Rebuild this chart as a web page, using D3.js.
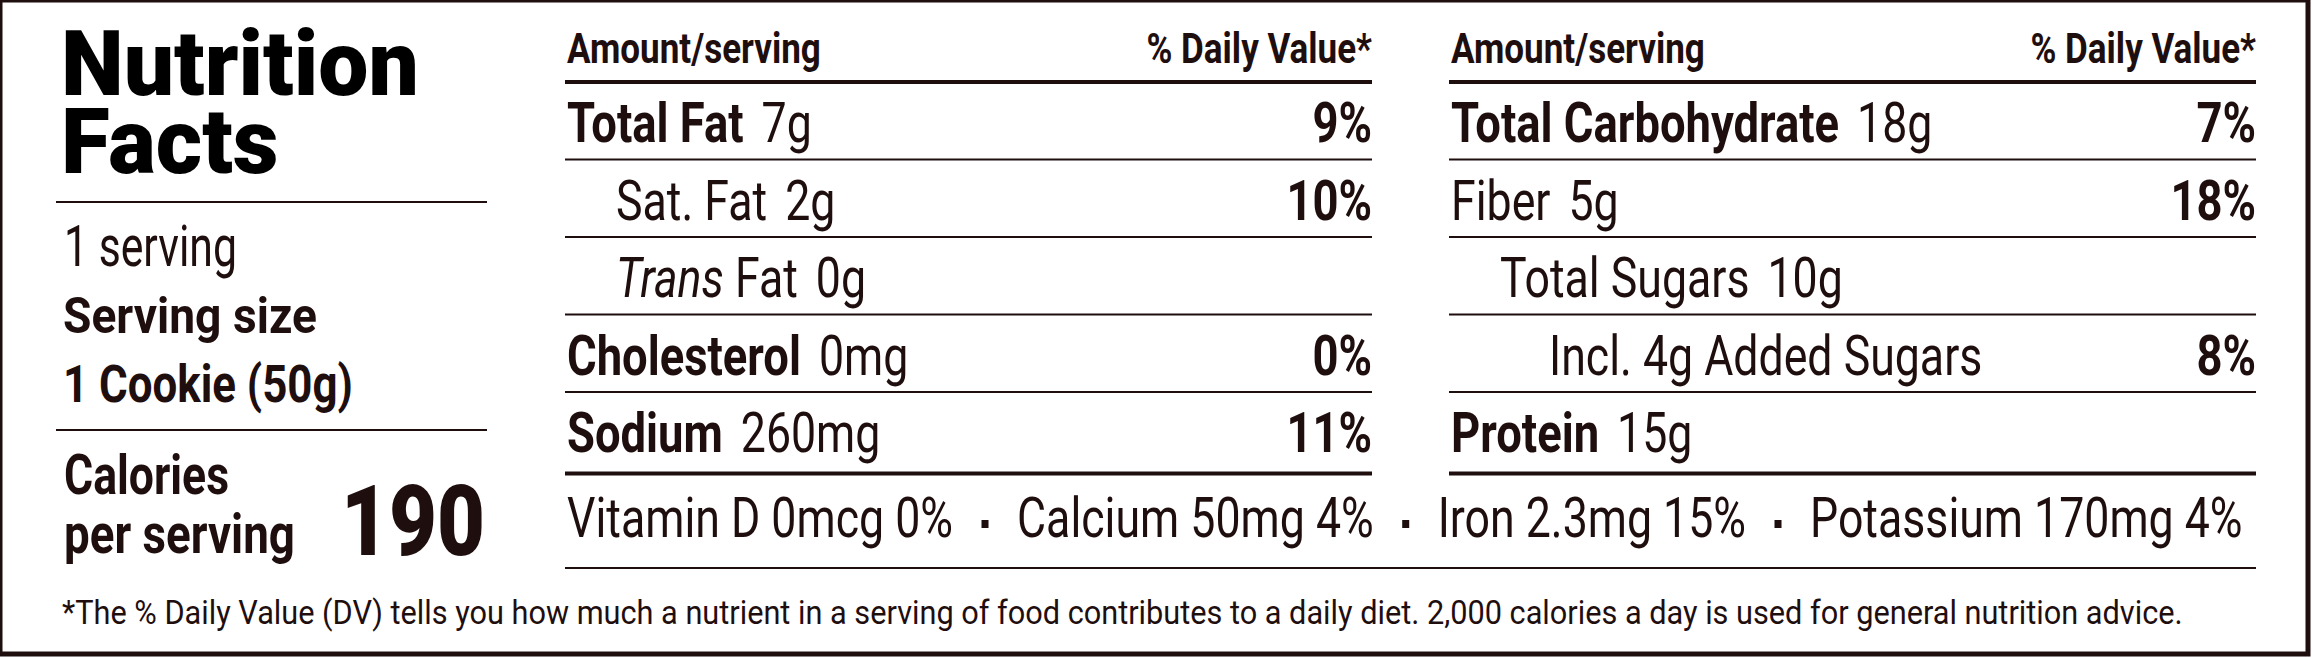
<!DOCTYPE html>
<html>
<head>
<meta charset="utf-8">
<script src="https://cdn.jsdelivr.net/npm/d3@7"></script>
<style>
  body { margin: 0; background: #fff; }
</style>
</head>
<body>
<div id="label"></div>
<script>
"use strict"

/* Label values */
let heading = ["Nutrition", "Facts"];
let servings = "1 serving";
let servingTitle = "Serving size";
let servingSize = "1 Cookie (50g)";
let calorieLines = ["Calories", "per serving"];
let calories = 190;
let columnHeads = ["Amount/serving", "% Daily Value*"];

let leftNames   = ["Total Fat", "Sat. Fat", "Trans Fat", "Cholesterol", "Sodium"];
let leftAmounts = ["7g", "2g", "0g", "0mg", "260mg"];
let leftDV      = ["9%", "10%", "", "0%", "11%"];
let leftDepth   = [0, 1, 1, 0, 0];
let leftMajor   = [true, false, false, true, true];

let rightNames   = ["Total Carbohydrate", "Fiber", "Total Sugars", "Incl. 4g Added Sugars", "Protein"];
let rightAmounts = ["18g", "5g", "10g", "", "15g"];
let rightDV      = ["7%", "18%", "", "8%", ""];
let rightDepth   = [0, 0, 1, 2, 0];
let rightMajor   = [true, false, false, false, true];

let vitamins = ["Vitamin D 0mcg 0%", "Calcium 50mg 4%", "Iron 2.3mg 15%", "Potassium 170mg 4%"];

let footnote = "*The % Daily Value (DV) tells you how much a nutrient in a serving of food contributes to a daily diet. 2,000 calories a day is used for general nutrition advice.";

/* Drawing configuration */
let svgWidth = 2312;
let svgHeight = 658;
let ink = "#1f0e0e";
let font = "Roboto, 'Liberation Sans', sans-serif";

let svg = d3.select("#label")
    .append("svg")
    .attr("width", svgWidth)
    .attr("height", svgHeight);

svg.append("rect")
    .attr("x", 0)
    .attr("y", 0)
    .attr("width", 2308)
    .attr("height", 654)
    .attr("fill", "#fff")
    .attr("stroke", ink)
    .attr("stroke-width", 5);

/* text styles; the font is squeezed sideways to match the condensed face */
let styles = {
    heading: { weight: 900, size: 91, probe: "Nutrition", width: 358, color: "#000" },
    big:     { weight: 900, size: 98, probe: "190", width: 144, color: ink },
    bold:    { weight: 700, size: 56, probe: "Cholesterol", width: 234, color: ink },
    regular: { weight: 400, size: 56, probe: vitamins.join(""), width: 1484, color: ink },
    head:    { weight: 700, size: 42, probe: "Amount/serving", width: 254, color: ink },
    note:    { weight: 400, size: 34, probe: footnote, width: 2122, color: ink }
};

function measure(str, weight, size) {
    let t = svg.append("text")
        .attr("font-family", font)
        .attr("font-weight", weight)
        .attr("font-size", size)
        .text(str);
    let w = t.node().getComputedTextLength();
    t.remove();
    return w;
}

for (let key in styles) {
    let s = styles[key];
    s.sx = s.width / measure(s.probe, s.weight, s.size);
}

/* fit: optional width the text is squeezed to instead of the style's own squeeze */
function say(str, x, y, style, anchor, size, fit) {
    let s = styles[style];
    let fs = size || s.size;
    let sx = fit ? fit / measure(str, s.weight, fs) : s.sx;
    let t = svg.append("text")
        .attr("transform", "translate(" + x + "," + y + ") scale(" + sx + ",1)")
        .attr("text-anchor", anchor || "start")
        .attr("font-family", font)
        .attr("font-weight", s.weight)
        .attr("font-size", fs)
        .attr("fill", s.color)
        .text(str);
    t.sx = sx;
    t.width = t.node().getComputedTextLength() * sx;
    return t;
}

function rule(x1, x2, y, w) {
    svg.append("line")
        .attr("x1", x1)
        .attr("x2", x2)
        .attr("y1", y)
        .attr("y2", y)
        .attr("stroke", ink)
        .attr("stroke-width", w);
}

/**** left panel ****/
let title = say("", 61, 95, "heading");
title.selectAll("tspan")
    .data(heading)
    .join("tspan")
    .attr("x", 0)
    .attr("y", function (d, i) { return i * 78; })
    .text(function (d) { return d; });

rule(56, 487, 202, 2);
say(servings, 64, 266, "regular", "start", 57, 173);
say(servingTitle, 63, 333, "bold", "start", 50, 254);
say(servingSize, 63, 402, "bold", "start", 52, 290);
rule(56, 487, 430, 2);
say(calorieLines[0], 64, 494, "bold", "start", 55);
say(calorieLines[1], 64, 553, "bold", "start", 55, 231);
say(String(calories), 485, 555, "big", "end");

/**** nutrient columns ****/
let xCol = d3.scaleBand()
    .domain(["left", "right"])
    .range([565, 2256])
    .paddingInner(77 / 884);

let yRow = d3.scaleBand()
    .domain(d3.range(leftNames.length))
    .range([82, 469.5]);

let indent = 49;

function column(key, names, amounts, dv, depth, major) {
    let x0 = xCol(key);
    let x1 = x0 + xCol.bandwidth();

    say(columnHeads[0], x0 + 2, 63, "head");
    say(columnHeads[1], x1, 63, "head", "end");
    rule(x0, x1, 82, 4);

    names.forEach(function (name, i) {
        let base = yRow(i) + 60;
        let x = x0 + 2 + depth[i] * indent;
        let t;
        if (name.indexOf("Trans") === 0) {
            t = say("", x, base, "regular");
            t.append("tspan").attr("font-style", "italic").text("Trans");
            t.append("tspan").text(name.slice(5));
            t.width = t.node().getComputedTextLength() * t.sx;
        } else {
            t = say(name, x, base, major[i] ? "bold" : "regular");
        }
        if (amounts[i] !== "") {
            say(amounts[i], x + t.width + 18, base, "regular");
        }
        if (dv[i] !== "") {
            say(dv[i], x1, base, "bold", "end");
        }
        if (i < names.length - 1) {
            rule(x0, x1, yRow(i) + yRow.bandwidth(), 1.8);
        }
    });
    rule(x0, x1, yRow.range()[1] + 4, 4);
}

column("left", leftNames, leftAmounts, leftDV, leftDepth, leftMajor);
column("right", rightNames, rightAmounts, rightDV, rightDepth, rightMajor);

/**** vitamins and minerals ****/
let vx = xCol("left") + 2;
vitamins.forEach(function (v, i) {
    let t = say(v, vx, 537, "regular");
    vx += t.width;
    if (i < vitamins.length - 1) {
        svg.append("rect")
            .attr("x", vx + 32 - 3.5)
            .attr("y", 520)
            .attr("width", 7)
            .attr("height", 8)
            .attr("fill", ink);
        vx += 64;
    }
});
rule(xCol("left"), xCol("right") + xCol.bandwidth(), 568, 1.8);

/**** footnote ****/
say(footnote, 62, 624, "note");
</script>
</body>
</html>
